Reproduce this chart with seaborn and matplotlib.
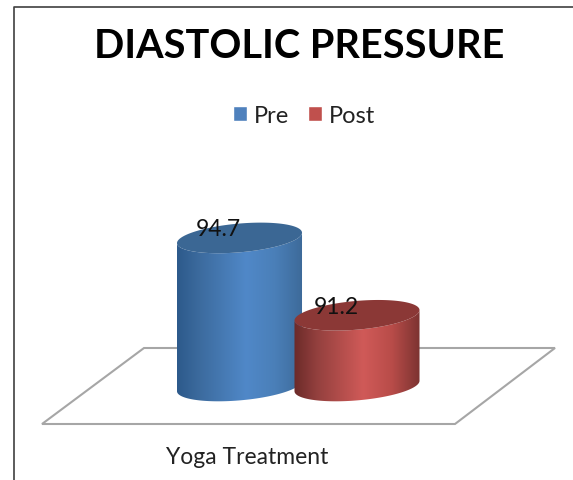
import matplotlib
matplotlib.use('Agg')
import matplotlib.pyplot as plt
from matplotlib.colors import LinearSegmentedColormap
from matplotlib.patches import Polygon
import numpy as np
import pandas as pd
import seaborn as sns

categories = ["Yoga Treatment"]
series = ["Pre", "Post"]
values = [94.7, 91.2]
title = "DIASTOLIC PRESSURE"

sns.set_theme(style="white")
plt.rcParams['font.family'] = ['Lato', 'DejaVu Sans']

W, H = 573, 481
# scale of the value axis, axes fill the whole figure
px_per_x = 293.75
px_per_y = 22.1
center_px = 298.25
base_val = 88.0
base_px = 387

df = pd.DataFrame({"group": categories * 2, "series": series, "value": values})
palette = {"Pre": "#4f81bd", "Post": "#c0504d"}
grads = {"Pre": ["#2d5a8b", "#3c6b9e", "#5088c8", "#4a7fb8", "#3d6a99"],
         "Post": ["#6b2a29", "#93403e", "#d05a58", "#b84c49", "#7c3331"]}
caps = {"Pre": "#3b6794", "Post": "#8b3836"}

fig = plt.figure(figsize=(W / 100, H / 100), dpi=100)
fig.patch.set_facecolor("white")
ax = fig.add_axes([0, 0, 1, 1])
sns.barplot(data=df, x="group", y="value", hue="series", palette=palette, saturation=1, gap=-0.064, ax=ax)


def ellipse(cx, cy, a, t):
    b, k = 14.4, 5.2
    return cx + a * np.cos(t) / px_per_x, cy + (b * np.sin(t) + k * np.cos(t)) / px_per_y


ax.set_xlim(-center_px / px_per_x, (W - center_px) / px_per_x)
ax.set_ylim(base_val - (H - base_px) / px_per_y, base_val + base_px / px_per_y)

bars = [p for p in ax.patches if p.get_height() > 0]
for name, bar, val in zip(series, bars, values):
    cx = bar.get_x() + bar.get_width() / 2
    a = bar.get_width() / 2 * px_per_x
    # cylinder side: lower half of base ellipse, closed over the top
    t = np.linspace(np.pi, 2 * np.pi, 80)
    bx, by = ellipse(cx, base_val, a, t)
    tx, ty = ellipse(cx, val, a, t[::-1])
    body = Polygon(np.c_[np.r_[bx, tx], np.r_[by, ty]], closed=True, transform=ax.transData,
                   fc="none", ec="none")
    ax.add_patch(body)
    cmap = LinearSegmentedColormap.from_list(name, list(zip([0, 0.18, 0.55, 0.78, 1], grads[name])))
    im = ax.imshow(np.linspace(0, 1, 256)[None, :], cmap=cmap, aspect="auto", zorder=3,
                   extent=(bar.get_x(), bar.get_x() + bar.get_width(), base_val - 1, val + 1))
    im.set_clip_path(body)
    t = np.linspace(0, 2 * np.pi, 160)
    ex, ey = ellipse(cx, val, a, t)
    ax.fill(ex, ey, color=caps[name], lw=0, zorder=3)
    ax.annotate(f"{val}", (cx, val), xytext=(-21 * 0.72, 9 * 0.72), textcoords="offset points",
                ha="center", va="center", fontsize=16.5, color="#111111", zorder=5)
    bar.set_visible(False)

ax.set_xlim(-center_px / px_per_x, (W - center_px) / px_per_x)
ax.set_ylim(base_val - (H - base_px) / px_per_y, base_val + base_px / px_per_y)

sns.move_legend(ax, "center", bbox_to_anchor=(304 / W, 1 - 116.5 / H), ncol=2, frameon=False, title=None,
                fontsize=17, handlelength=0.6, handleheight=0.6, handletextpad=0.3,
                columnspacing=0.8, labelcolor="#222222")

# floor and chart frame
floor = Polygon(np.array([[42, 425], [455, 425], [555, 349], [144, 349]]) / [W, H] * [1, -1] + [0, 1],
                closed=True, transform=ax.transAxes, fc="none", ec="#a6a6a6", lw=1.5, zorder=1)
ax.add_patch(floor)
ax.plot([14 / W, 14 / W, 1], [0, 1 - 8 / H, 1 - 8 / H], transform=ax.transAxes, color="#404040", lw=1.2,
        clip_on=False)

ax.text(299 / W, 1 - 46 / H, title, transform=ax.transAxes, ha="center", va="center", fontsize=28.5,
        fontweight="bold", color="black")
ax.text(247 / W, 1 - 458 / H, categories[0], transform=ax.transAxes, ha="center", va="center", fontsize=16.5,
        color="#222222")

ax.set_axis_off()
plt.savefig("out.png", dpi=100)
plt.close("all")
